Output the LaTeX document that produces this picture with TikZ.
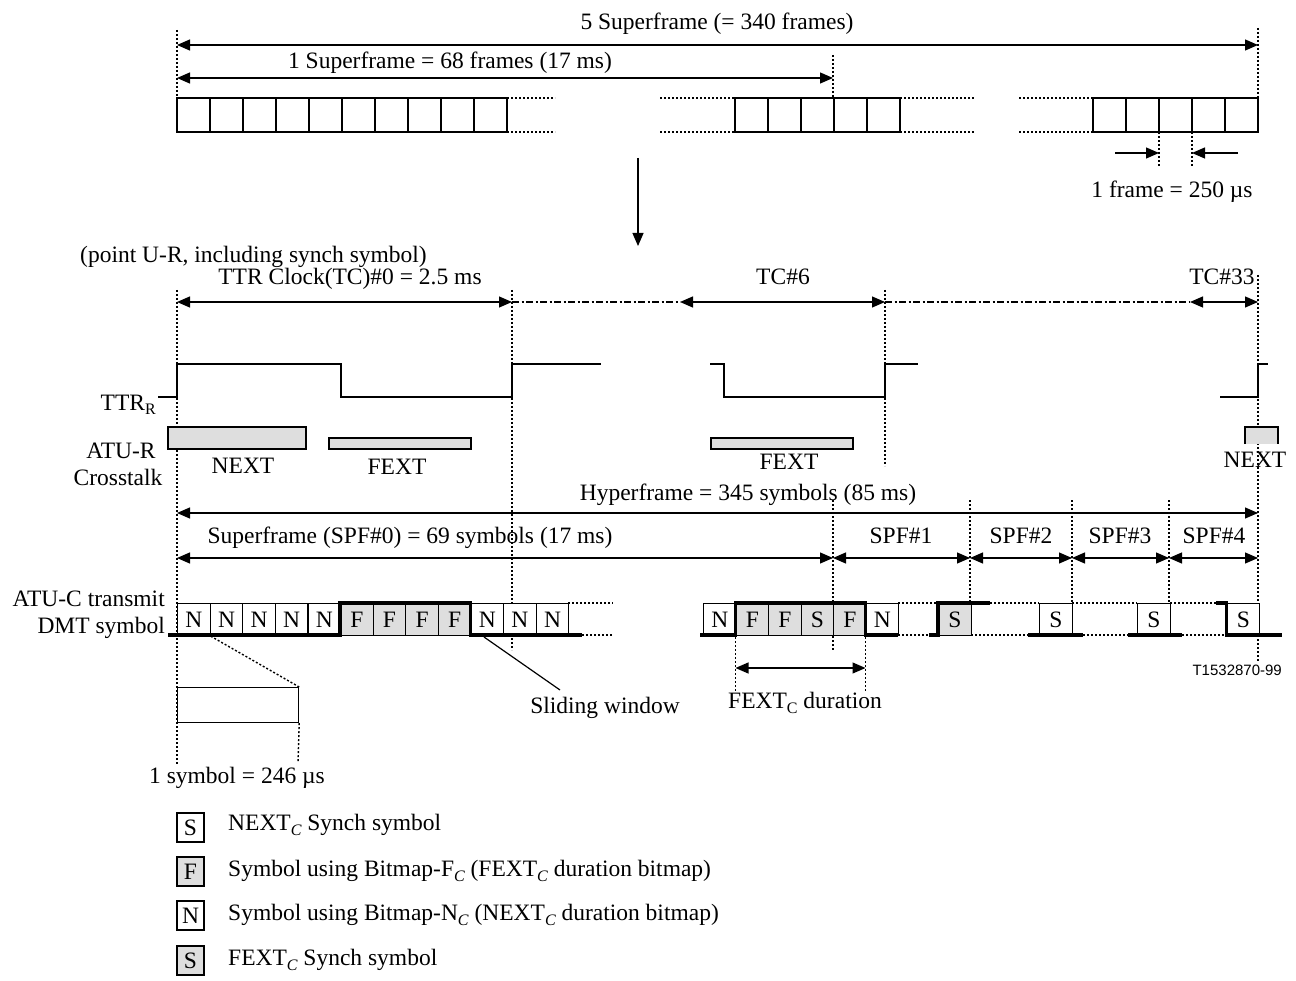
\documentclass[tikz,border=0pt]{standalone}
\usepackage{fontspec}
\setmainfont{Liberation Serif}
\newfontfamily\arialfont{Liberation Sans}
\usetikzlibrary{arrows.meta}
\newcommand\lowsub[1]{\raisebox{-5pt}{\fontsize{16}{16}\selectfont #1}}
\newcommand\itsub[1]{\raisebox{-5pt}{\fontsize{16}{16}\selectfont\itshape #1}}
\definecolor{crossgray}{RGB}{222,222,222}
\begin{document}
\begin{tikzpicture}[x=1pt,y=-1pt,
  >={Triangle[length=13pt,width=11pt]},
  ln/.style={line width=1.2pt},
  thick trace/.style={line width=3.6pt},
  dots/.style={line width=1.4pt, dash pattern=on 2pt off 2pt},
  dashdot/.style={line width=1.2pt, dash pattern=on 7pt off 2.5pt on 2pt off 2.5pt},
  dim/.style={line width=1.2pt, <->},
  lbl/.style={font=\fontsize{23.5}{26}\selectfont, inner sep=0pt, anchor=base},
  cellbox/.style={draw, line width=1.2pt, minimum width=32.6pt, minimum height=32pt,
     inner sep=0pt, anchor=north west, font=\fontsize{23.5}{26}\selectfont, fill=white},
  gcell/.style={cellbox, fill=crossgray},
  legbox/.style={draw, line width=1.2pt, minimum width=27pt, minimum height=29pt,
     inner sep=0pt, font=\fontsize{23.5}{26}\selectfont},
]
\useasboundingbox (0,0) rectangle (1296,981);

% ---------------- top: superframes ----------------
\node[lbl] (t5sf) at (717,30) {5 Superframe (= 340 frames)};
\node[lbl] (t1sf) at (450,69) {1 Superframe = 68 frames (17 ms)};
\coordinate (L0) at (177,45); \coordinate (R0) at (1258,45);
\coordinate (L1) at (177,78); \coordinate (R1) at (833,78);
\draw[dots] (177,30) -- (177,98);
\draw[dots] (1258,28) -- (1258,98);
\draw[dots] (833,55) -- (833,98);
\draw[dim] (L0) -- (R0);
\draw[dim] (L1) -- (R1);

\foreach \x in {177,210,...,474}{\draw[ln] (\x,98) rectangle ++(33,34);}
\foreach \x in {735,768,...,867}{\draw[ln] (\x,98) rectangle ++(33,34);}
\foreach \x in {1093,1126,...,1225}{\draw[ln] (\x,98) rectangle ++(33,34);}
\foreach \a/\b in {507/555,660/735,900/975,1019/1093}{
  \draw[dots] (\a,98) -- (\b,98);
  \draw[dots] (\a,132) -- (\b,132);}
\draw[dots] (1159,132) -- (1159,166);
\draw[dots] (1192,132) -- (1192,166);
\coordinate (fa1) at (1115,153); \coordinate (fa2) at (1159,153);
\coordinate (fb1) at (1238,153); \coordinate (fb2) at (1192,153);
\draw[ln,->] (fa1) -- (fa2);
\draw[ln,->] (fb1) -- (fb2);
\node[lbl] (tframe) at (1172,198) {1 frame = 250 µs};

\coordinate (dn1) at (638,158); \coordinate (dn2) at (638,246);
\draw[ln,->] (dn1) -- (dn2);

\node[lbl, anchor=base west] (tpoint) at (80,263) {(point U-R, including synch symbol)};

% ---------------- TTR clocks ----------------
\draw[dots] (177,290) -- (177,765);
\draw[dots] (512,290) -- (512,650);
\draw[dots] (885,290) -- (885,466);
\draw[dots] (1258,275) -- (1258,662);
\draw[dots] (833,500) -- (833,650);
\foreach \x in {970,1072,1169}{\draw[dots] (\x,500) -- (\x,603);}

\node[lbl] (ttc0) at (350,285) {TTR Clock(TC)\#0 = 2.5 ms};
\node[lbl] (ttc6) at (783,285) {TC\#6};
\node[lbl] (ttc33) at (1222,285) {TC\#33};
\coordinate (c0a) at (177,302); \coordinate (c0b) at (512,302);
\coordinate (c6a) at (680,302); \coordinate (c6b) at (885,302);
\coordinate (c33a) at (1190,302); \coordinate (c33b) at (1258,302);
\draw[dim] (c0a) -- (c0b);
\draw[dashdot] (c0b) -- (c6a);
\draw[dim] (c6a) -- (c6b);
\draw[dashdot] (c6b) -- (c33a);
\draw[dim] (c33a) -- (c33b);

% TTR_R waveform
\draw[ln] (158,397) -- (177,397) -- (177,364) -- (341,364) -- (341,397) -- (512,397) -- (512,364) -- (601,364);
\draw[ln] (710,364) -- (724,364) -- (724,397) -- (885,397) -- (885,364) -- (918,364);
\draw[ln] (1220,397) -- (1258,397) -- (1258,364) -- (1268,364);
\node[lbl, anchor=base east] (tttr) at (156,410) {TTR\lowsub{R}};

% crosstalk
\node[lbl] (tatur) at (121,458) {ATU-R};
\node[lbl] (tcross) at (118,485) {Crosstalk};
\draw[ln, fill=crossgray] (168,427) rectangle (306,449);
\draw[ln, fill=crossgray] (329,438) rectangle (471,449);
\draw[ln, fill=crossgray] (711,438) rectangle (853,449);
\draw[ln, fill=crossgray] (1245,444) -- (1245,427) -- (1278,427) -- (1278,444);
\node[lbl] (tnext1) at (243,473) {NEXT};
\node[lbl] (tfext1) at (397,474) {FEXT};
\node[lbl] (tfext2) at (789,469) {FEXT};
\node[lbl] (tnext2) at (1255,467) {NEXT};

% ---------------- hyperframe ----------------
\node[lbl] (thyp) at (748,500) {Hyperframe = 345 symbols (85 ms)};
\coordinate (h0) at (177,513); \coordinate (h1) at (1258,513);
\draw[dim] (h0) -- (h1);
\node[lbl] (tspf0) at (410,543) {Superframe (SPF\#0) = 69 symbols (17 ms)};
\node[lbl] (tspf1) at (901,543) {SPF\#1};
\node[lbl] (tspf2) at (1021,543) {SPF\#2};
\node[lbl] (tspf3) at (1120,543) {SPF\#3};
\node[lbl] (tspf4) at (1214,543) {SPF\#4};
\coordinate (s0) at (177,558); \coordinate (s1) at (833,558);
\coordinate (s2) at (970,558); \coordinate (s3) at (1072,558);
\coordinate (s4) at (1169,558); \coordinate (s5) at (1258,558);
\draw[dim] (s0) -- (s1);
\draw[dim] (s1) -- (s2);
\draw[dim] (s2) -- (s3);
\draw[dim] (s3) -- (s4);
\draw[dim] (s4) -- (s5);

% ---------------- symbol row ----------------
\node[lbl, anchor=base east] (tatuc) at (165,606) {ATU-C transmit};
\node[lbl, anchor=base east] (tdmt) at (165,633) {DMT symbol};

\foreach \i/\t in {0/N,1/N,2/N,3/N,4/N,9/N,10/N,11/N}{
  \node[cellbox] (L\i) at (177+32.6*\i,603) {\t};}
\foreach \i in {5,6,7,8}{
  \node[gcell] (L\i) at (177+32.6*\i,603) {F};}
\node[cellbox] (R0) at (703,603) {N};
\node[gcell] (R1) at (735.5,603) {F};
\node[gcell] (R2) at (768,603) {F};
\node[gcell] (R3) at (800.5,603) {S};
\node[gcell] (R4) at (833,603) {F};
\node[cellbox] (R5) at (865.5,603) {N};
\node[gcell] (S1) at (938,603) {S};
\node[cellbox] (S2) at (1039,603) {S};
\node[cellbox] (S3) at (1137,603) {S};
\node[cellbox] (S4) at (1226.5,603) {S};

% dotted continuations
\draw[dots] (568.2,603) -- (613,603);
\draw[dots] (582,635) -- (613,635);
\draw[dots] (898,603) -- (938,603);
\draw[dots] (898,635) -- (929,635);
\draw[dots] (990,603) -- (1039,603);
\draw[dots] (971,635) -- (1028,635);
\draw[dots] (1072,603) -- (1137,603);
\draw[dots] (1083,635) -- (1128,635);
\draw[dots] (1170,603) -- (1216,603);
\draw[dots] (1182,635) -- (1226,635);

% thick traces
\draw[thick trace] (168,635) -- (340,635) -- (340,603) -- (470.4,603) -- (470.4,635) -- (582,635);
\draw[thick trace] (700,635) -- (735.5,635) -- (735.5,603) -- (865.5,603) -- (865.5,635) -- (898,635);
\draw[thick trace] (929,635) -- (938,635) -- (938,603) -- (990,603);
\draw[thick trace] (1028,635) -- (1083,635);
\draw[thick trace] (1128,635) -- (1182,635);
\draw[thick trace] (1216,603) -- (1226.5,603) -- (1226.5,635) -- (1282,635);

% dotted stubs below right group
\draw[dots] (735.5,637) -- (735.5,692);
\draw[dots] (865.5,637) -- (865.5,692);
\coordinate (fd0) at (735.5,668); \coordinate (fd1) at (865.5,668);
\draw[dim] (fd0) -- (fd1);
\node[lbl] (tfextc) at (805,708) {FEXT\lowsub{C} duration};

% one-symbol zoom
\node[draw, ln, minimum width=121pt, minimum height=35pt, inner sep=0pt, anchor=north west] (onesym) at (177,687) {};
\draw[dots] (L0.south east) -- (onesym.north east);
\draw[dots] (onesym.south east) -- (298,763);
\node[lbl] (tonesym) at (237,783) {1 symbol = 246 µs};

% sliding window
\coordinate (sw) at (560,690);
\draw[ln] (484,637) -- (sw);
\node[lbl] (tslide) at (605,713) {Sliding window};

\node[font=\arialfont\fontsize{15}{17}\selectfont, anchor=base east, inner sep=0pt] (tid) at (1282,675) {T1532870-99};

% ---------------- legend ----------------
\node[legbox] (lg1) at (190.5,827.5) {S};
\node[legbox, fill=crossgray] (lg2) at (190.5,871.5) {F};
\node[legbox] (lg3) at (190.5,915.5) {N};
\node[legbox, fill=crossgray] (lg4) at (190.5,960.5) {S};
\node[lbl, anchor=base west] (lt1) at (228,830) {NEXT\itsub{C} Synch symbol};
\node[lbl, anchor=base west] (lt2) at (228,876) {Symbol using Bitmap-F\itsub{C} (FEXT\itsub{C} duration bitmap)};
\node[lbl, anchor=base west] (lt3) at (228,920) {Symbol using Bitmap-N\itsub{C} (NEXT\itsub{C} duration bitmap)};
\node[lbl, anchor=base west] (lt4) at (228,965) {FEXT\itsub{C} Synch symbol};
\end{tikzpicture}
\end{document}
